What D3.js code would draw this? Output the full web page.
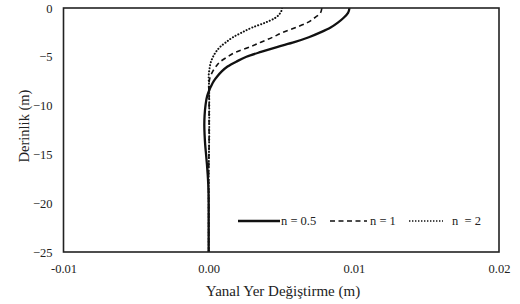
<!DOCTYPE html>
<html>
<head>
<meta charset="utf-8">
<script src="https://cdn.jsdelivr.net/npm/d3@7"></script>
<style>
  html, body { margin: 0; padding: 0; background: #fff; }
  svg { display: block; }
  svg text { fill: #222; }
</style>
</head>
<body>
<svg id="chart" width="520" height="304"></svg>
<script>
// ---- data ----
const depths = [0, -0.5, -1, -1.5, -2, -2.5, -3, -3.5, -4, -4.5, -5, -5.5, -6, -6.5, -7, -7.5, -8, -8.5, -9, -10, -11, -12, -13, -14, -15, -16, -17, -18, -20, -22, -25];
const n05 = [0.0097, 0.0096, 0.0093, 0.0089, 0.0084, 0.0077, 0.0069, 0.0059, 0.0047, 0.0036, 0.0026, 0.0019, 0.0013, 0.0009, 0.0006, 0.00035, 0.00017, 0.00002, -0.0001, -0.00022, -0.00028, -0.0003, -0.00028, -0.00024, -0.00018, -0.00012, -0.00007, -0.00003, 0, 0, 0];
const n1 = [0.0078, 0.0077, 0.0073, 0.0068, 0.0060, 0.0051, 0.0044, 0.0036, 0.00283, 0.0019, 0.0013, 0.0008, 0.0005, 0.00028, 0.00012, 0.00004, 0.0, 0.00002, 0.00003, 0.00003, 0.00003, 0.00003, 0.00003, 0.00003, 0.00002, 0.00001, 0, 0, 0, 0, 0];
const n2 = [0.00506, 0.00494, 0.0046, 0.0039, 0.0030, 0.0023, 0.00167, 0.0012, 0.00078, 0.0005, 0.0003, 0.00016, 0.00008, 0.00003, 0.0, 0.00001, 0.00003, 0.00004, 0.00004, 0.00004, 0.00004, 0.00004, 0.00004, 0.00003, 0.00002, 0.00001, 0, 0, 0, 0, 0];
const seriesNames = ["n = 0.5", "n = 1", "n  = 2"];
const xTicks = [-0.01, 0.00, 0.01, 0.02];
const xTickLabels = ["-0.01", "0.00", "0.01", "0.02"];
const yTicks = [0, -5, -10, -15, -20, -25];
const xTitle = "Yanal Yer Değiştirme (m)";
const yTitle = "Derinlik (m)";

// ---- layout ----
const FONT = '"Liberation Serif", "Times New Roman", Times, serif';
const svg = d3.select("#chart");
const pL = 63.5, pR = 499, pT = 8, pB = 252;
const x = d3.scaleLinear().domain([-0.01, 0.02]).range([pL, pR]);
const y = d3.scaleLinear().domain([0, -25]).range([pT, pB]);

// axes (no tick marks)
const xAxis = d3.axisBottom(x).tickValues(xTicks).tickSize(0).tickPadding(12)
  .tickFormat((d, i) => xTickLabels[i]);
const yAxis = d3.axisLeft(y).tickValues(yTicks).tickSize(0).tickPadding(11)
  .tickFormat(d3.format("d"));

const gx = svg.append("g").attr("transform", `translate(0,${pB})`).call(xAxis)
  .attr("font-family", FONT).attr("font-size", 12.5);
gx.select(".domain").remove();
gx.selectAll("text").attr("fill", "#222");

const gy = svg.append("g").attr("transform", `translate(${pL},0)`).call(yAxis)
  .attr("font-family", FONT).attr("font-size", 12.5);
gy.select(".domain").remove();
gy.selectAll("text").attr("fill", "#222");

// data lines
const styles = [
  { w: 2.3, dash: null, cap: "butt" },
  { w: 1.6, dash: "5,3.5", cap: "butt" },
  { w: 2, dash: "0.1,3", cap: "round" }
];
const allSeries = [n05, n1, n2];
const line = d3.line()
  .x(d => x(d[0]))
  .y(d => y(d[1]))
  .curve(d3.curveMonotoneY);

const clipId = "plotclip";
svg.append("clipPath").attr("id", clipId).append("rect")
  .attr("x", pL).attr("y", pT).attr("width", pR - pL).attr("height", pB - pT);

allSeries.forEach((vals, i) => {
  const pts = depths.map((d, k) => [vals[k], d]);
  svg.append("path")
    .attr("d", line(pts))
    .attr("fill", "none")
    .attr("stroke", "#111")
    .attr("stroke-width", styles[i].w)
    .attr("stroke-dasharray", styles[i].dash)
    .attr("stroke-linecap", styles[i].cap)
    .attr("clip-path", `url(#${clipId})`);
});

// frame
svg.append("rect")
  .attr("x", pL).attr("y", pT)
  .attr("width", pR - pL).attr("height", pB - pT)
  .attr("fill", "none").attr("stroke", "#222").attr("stroke-width", 1.6);

// legend
const legendItems = [
  { x0: 238, x1: 280, tx: 281 },
  { x0: 330, x1: 367, tx: 370 },
  { x0: 409, x1: 443, tx: 452 }
];
const ly = 221;
legendItems.forEach((it, i) => {
  svg.append("line")
    .attr("x1", it.x0).attr("x2", it.x1).attr("y1", ly).attr("y2", ly)
    .attr("stroke", "#111")
    .attr("stroke-width", i === 0 ? 2.3 : 1.6)
    .attr("stroke-dasharray", i === 0 ? null : (i === 1 ? "5,3.5" : "1.4,1.6"));
  svg.append("text")
    .attr("x", it.tx).attr("y", ly + 4)
    .attr("font-family", FONT)
    .attr("font-size", 12.5)
    .style("white-space", "pre")
    .text(seriesNames[i]);
});

// titles
svg.append("text")
  .attr("x", 283).attr("y", 296)
  .attr("text-anchor", "middle")
  .attr("font-family", FONT)
  .attr("font-size", 15)
  .text(xTitle);

svg.append("text")
  .attr("transform", `translate(29,126) rotate(-90)`)
  .attr("text-anchor", "middle")
  .attr("font-family", FONT)
  .attr("font-size", 14.5)
  .text(yTitle);
</script>
</body>
</html>
